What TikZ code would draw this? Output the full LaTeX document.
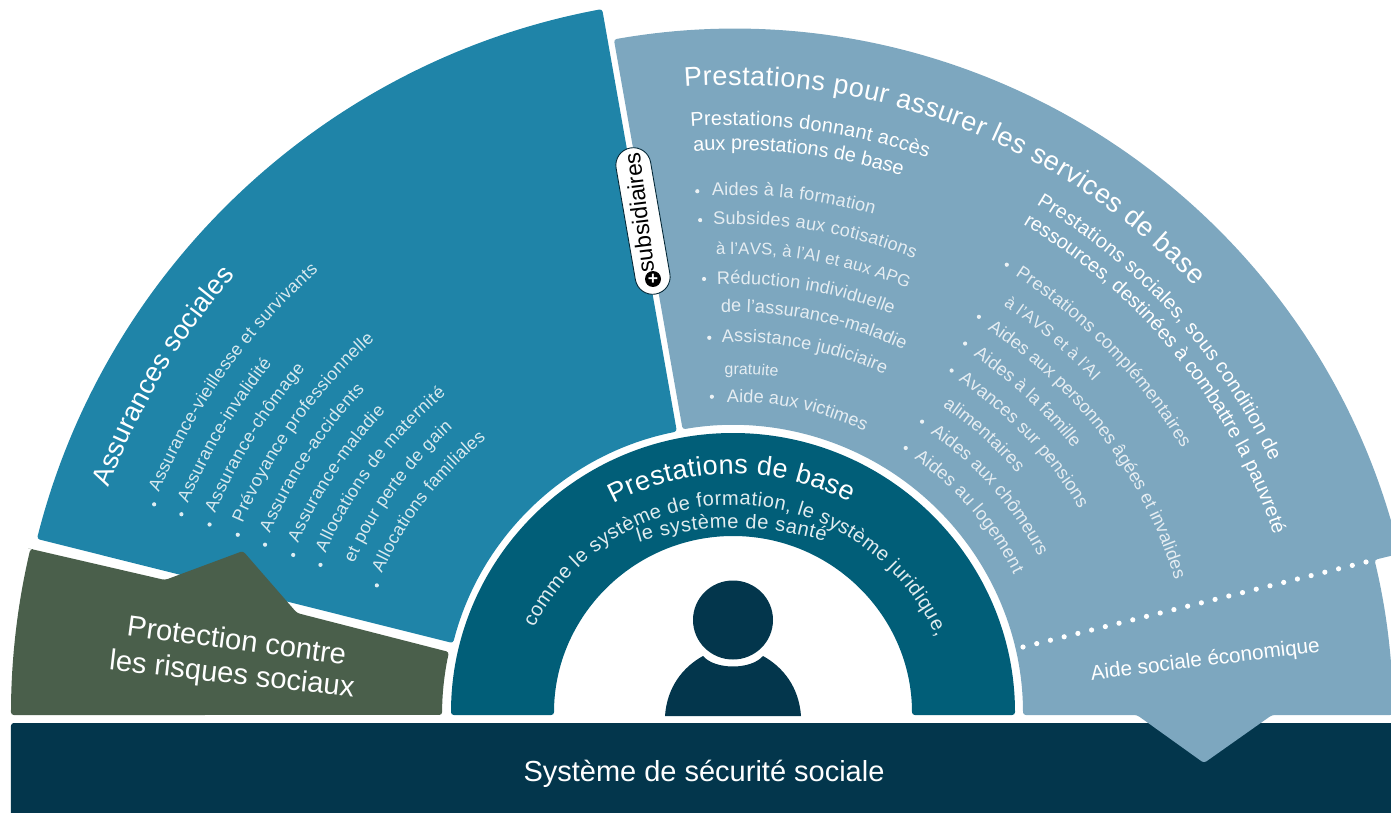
\documentclass[tikz,border=0pt]{standalone}
\usepackage{fontspec}
\setmainfont{Liberation Sans}
\usetikzlibrary{decorations.text,shapes.misc}

\definecolor{navy}{HTML}{03364C}
\definecolor{teal}{HTML}{015E78}
\definecolor{seablue}{HTML}{1F84A8}
\definecolor{skyblue}{HTML}{7DA7BF}
\definecolor{moss}{HTML}{4A5F4B}

\newcommand{\bigfont}{\color{white}\fontsize{15.4}{17}\selectfont}
\newcommand{\midfont}{\color{white}\fontsize{11.3}{13}\selectfont}
\newcommand{\leftfont}{\color{white!82!seablue}\fontsize{10.1}{12}\selectfont}
\newcommand{\rightfont}{\color{white!80!skyblue}\fontsize{10.3}{12}\selectfont}
\newcommand{\capsfont}{\color{white!80!skyblue}\fontsize{9.6}{12}\selectfont}
\newcommand{\smallfont}{\color{white!80!skyblue}\fontsize{9}{11}\selectfont}
\newcommand{\basefont}{\color{white!88!teal}\fontsize{11.4}{13}\selectfont}

% radius, start angle, end angle, font, text
\newcommand{\arcline}[5]{%
	\path[decorate, decoration={text along path, text align={fit to path}, text={|#4|#5~}}]
	(#2:#1) arc[start angle=#2, end angle=#3, radius=#1];}

\tikzset{
	sector/.style={rounded corners=1.6pt},
	flat/.style={text=white, inner sep=0pt, anchor=base},
}

\begin{document}
\begin{tikzpicture}[x=0.02cm, y=0.02cm]
	\useasboundingbox (-733,-97) rectangle (658,715);
	\clip (-733,-97) rectangle (658,715);
	
	% Bottom bar
	\fill[navy, sector] (-722,-120) -- (-722,-8) -- (700,-8) -- (700,-120) -- cycle;
	
	% Sectors
	\fill[seablue, sector] (165.8:718) arc[start angle=165.8, end angle=100.5, radius=718]
		-- (101.2:289) arc[start angle=101.2, end angle=165.6, radius=289] -- cycle;
	\fill[moss, sector] (-702,166) -- (-568,135) -- (-490,164) -- (-436,102) -- (-284,63)
		arc[start angle=167.5, end angle=180, radius=291]
		-- (-722,0) arc[start angle=180, end angle=166.7, radius=722] -- cycle;
	\fill[skyblue, sector] (100:686) arc[start angle=100, end angle=13.6, radius=686]
		-- (13.6:660) arc[start angle=13.6, end angle=0, radius=660]
		-- (539,0) -- (471,-48) -- (404,0) -- (290,0)
		arc[start angle=0, end angle=100, radius=290] -- cycle;
	\fill[teal, sector] (-282,0) arc[start angle=180, end angle=0, radius=282]
		-- (179,0) arc[start angle=0, end angle=180, radius=179] -- cycle;
	
	% Person
	\fill[navy] (0,95) ellipse (40 and 39.5);
	\fill[navy] (-68,-1) .. controls (-66,28) and (-50,48) .. (-30,59)
		.. controls (-18,45) and (18,45) .. (30,59)
		.. controls (50,48) and (66,28) .. (68,-1) -- cycle;
	
	% Dotted border
	\foreach \i in {0,...,25} {
		\pgfmathsetmacro{\x}{290 + \i * 13.72}
		\pgfmathsetmacro{\y}{68 + \i * 3.4}
		\fill[white] (\x,\y) circle (2.6);
	}
	
	% Bullets of the right sector
	\foreach \a/\r in {93.9/525, 93.8/496, 93.8/437, 93.6/378, 93.8/319,
		58.7/527, 58.3/468, 58/438, 57.6/408, 57.2/349, 57.1/318} {
		\fill[white!85!skyblue] (\a:\r) circle (2.1);
	}
	% Bullets of the left sector
	\foreach \r in {616, 587, 557, 527, 498, 468, 439, 379} {
		\fill[white!85!seablue] (160:\r) circle (2.1);
	}
	
	% Titles
	\arcline{630}{94.4}{42.2}{\bigfont}{Prestations pour assurer les services de base}
	\arcline{664}{160}{137.9}{\bigfont}{Assurances sociales}
	\begin{scope}[shift={(0,-14)}]
		\arcline{255}{118}{60.9}{\bigfont}{Prestations de base}
	\end{scope}
	
	% Basic access benefits
	\arcline{590}{94.1}{70.2}{\midfont}{Prestations donnant accès}
	\arcline{565}{94}{72.1}{\midfont}{aux prestations de base}
	\arcline{520}{92.3}{73.7}{\rightfont}{Aides à la formation}
	\arcline{491}{92.3}{67.7}{\rightfont}{Subsides aux cotisations}
	\arcline{461}{92.1}{67.1}{\capsfont}{à l’AVS, à l’AI et aux APG}
	\arcline{431}{92.1}{67.6}{\rightfont}{Réduction individuelle}
	\arcline{403}{91.7}{64.2}{\rightfont}{de l’assurance-maladie}
	\arcline{373}{91.7}{65.2}{\rightfont}{Assistance judiciaire}
	\arcline{341}{91.4}{81.7}{\smallfont}{gratuite}
	\arcline{313}{91.1}{64.2}{\rightfont}{Aide aux victimes}
	
	% Means tested benefits
	\arcline{594}{59.3}{24.7}{\midfont}{Prestations sociales, sous condition de}
	\arcline{570}{59.4}{18.8}{\midfont}{ressources, destinées à combattre la pauvreté}
	\arcline{522}{57.3}{30.1}{\rightfont}{Prestations complémentaires}
	\arcline{491}{56.6}{42.2}{\capsfont}{à l’AVS et à l’AI}
	\arcline{462}{56.6}{17}{\rightfont}{Aides aux personnes âgées et invalides}
	\arcline{432}{56.2}{37.7}{\rightfont}{Aides à la famille}
	\arcline{403}{56}{30}{\rightfont}{Avances sur pensions}
	\arcline{373}{55.8}{39.6}{\rightfont}{alimentaires}
	\arcline{344}{55}{26.5}{\rightfont}{Aides aux chômeurs}
	\arcline{314}{54.8}{25.6}{\rightfont}{Aides au logement}
	
	% List of the social insurances
	\begin{scope}[shift={(-10,-15)}]
		\arcline{612}{157.2}{130.9}{\leftfont}{Assurance-vieillesse et survivants}
		\arcline{581}{157.1}{140.4}{\leftfont}{Assurance-invalidité}
		\arcline{552}{156.9}{138.6}{\leftfont}{Assurance-chômage}
		\arcline{523}{156.7}{131.2}{\leftfont}{Prévoyance professionnelle}
		\arcline{494}{156.5}{135.8}{\leftfont}{Assurance-accidents}
		\arcline{464}{156.3}{136}{\leftfont}{Assurance-maladie}
		\arcline{435}{156}{128.8}{\leftfont}{Allocations de maternité}
		\arcline{405}{155.7}{131.1}{\leftfont}{et pour perte de gain}
		\arcline{375.5}{155.3}{128.3}{\leftfont}{Allocations familiales}
	\end{scope}
	
	% Inside of the ring
	\begin{scope}[shift={(0,-12.5)}]
		\arcline{222.5}{153.4}{22.3}{\basefont}{comme le système de formation, le système juridique,}
	\end{scope}
	\begin{scope}[shift={(0,-133)}]
		\arcline{320}{107.1}{72.2}{\basefont}{le système de santé}
	\end{scope}
	
	% Straight labels
	\node[flat, font=\fontsize{16.6}{18}\selectfont, rotate=-7.6] (risksA) at (-497.5,65) {Protection contre};
	\node[flat, font=\fontsize{16.6}{18}\selectfont, rotate=-6.4] (risksB) at (-502,31.5) {les risques sociaux};
	\node[flat, font=\fontsize{11.8}{13}\selectfont, rotate=7] (aid) at (473,49) {Aide sociale économique};
	\node[flat, font=\fontsize{16.5}{18}\selectfont] (system) at (-29,-66.5) {Système de sécurité sociale};
	
	% Subsidiary tag
	\node[draw=navy!70!black, line width=.5pt, fill=white, rounded rectangle, minimum width=3.2cm,
		minimum height=.7cm, rotate=99.8] (pill) at (-90,494) {};
	\node[text=black, inner sep=0pt, font=\fontsize{13}{15}\selectfont, rotate=97] (subs) at (-94,502.5) {subsidiaires};
	\node[circle, fill=black, inner sep=0pt, minimum size=.32cm, text=white,
		font=\bfseries\fontsize{10}{10}\selectfont] (plus) at (-80,436) {+};
\end{tikzpicture}
\end{document}
